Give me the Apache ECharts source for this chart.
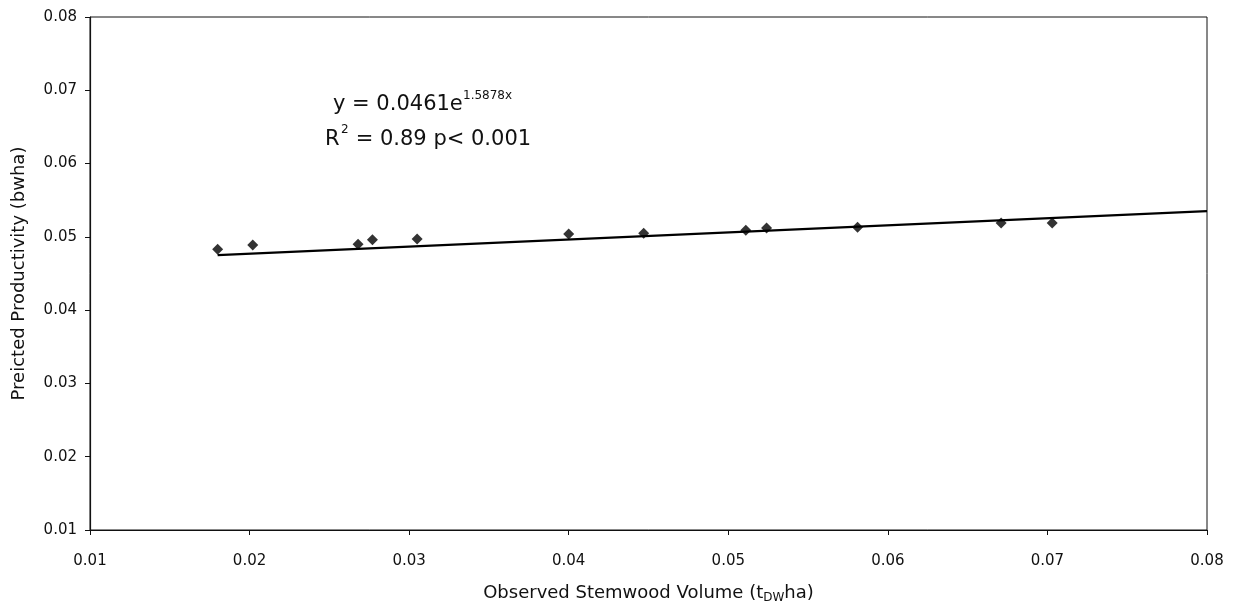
<!DOCTYPE html>
<html>
<head>
<meta charset="utf-8">
<script src="https://cdn.jsdelivr.net/npm/echarts@6/dist/echarts.min.js"></script>
<style>
html,body{margin:0;padding:0;background:#fff;}
#chart{width:1240px;height:608px;}
</style>
</head>
<body>
<div id="chart"></div>
<script>
// Observed stemwood volume (x) and predicted productivity (y)
const observedX = [0.0180, 0.0202, 0.0268, 0.0277, 0.0305, 0.0400, 0.0447, 0.0511, 0.0524, 0.0581, 0.0671, 0.0703];
const predictedY = [0.0483, 0.0489, 0.0490, 0.0496, 0.0497, 0.0504, 0.0505, 0.0509, 0.0512, 0.0513, 0.0519, 0.0519];
// Trendline end points
const trendX = [0.018, 0.08];
const trendY = [0.0475, 0.0535];
const xTicks = ['0.01','0.02','0.03','0.04','0.05','0.06','0.07','0.08'];
const yTicks = ['0.01','0.02','0.03','0.04','0.05','0.06','0.07','0.08'];

const FONT = '"DejaVu Sans", "Liberation Sans", Arial, sans-serif';
const chart = echarts.init(document.getElementById('chart'));
const pts = observedX.map((x, i) => [x, predictedY[i]]);
const trend = trendX.map((x, i) => [x, trendY[i]]);

chart.setOption({
  animation: false,
  backgroundColor: '#fff',
  grid: { left: 90, right: 33, top: 17, bottom: 78, containLabel: false, outerBoundsMode: 'none',
    show: true, borderColor: '#111', borderWidth: 1, backgroundColor: 'transparent' },
  xAxis: {
    type: 'value', min: 0.01, max: 0.08, interval: 0.01,
    name: 'Observed Stemwood Volume (t{sub|DW}ha)',
    nameLocation: 'middle', nameGap: 53,
    nameTextStyle: { fontFamily: FONT, fontSize: 18, color: '#111',
      rich: { sub: { fontFamily: FONT, fontSize: 12, color: '#111', padding: [9, 0, 0, 0] } } },
    axisLine: { show: true, lineStyle: { color: '#111', width: 1.2 } },
    axisTick: { show: true, inside: false, length: 5, lineStyle: { color: '#111' } },
    axisLabel: { fontFamily: FONT, fontSize: 15, color: '#111', margin: 24,
      formatter: v => xTicks[Math.round((v - 0.01) * 100)] || '' },
    splitLine: { show: false }
  },
  yAxis: {
    type: 'value', min: 0.01, max: 0.08, interval: 0.01,
    name: 'Preicted Productivity (bwha)',
    nameLocation: 'middle', nameGap: 62,
    nameTextStyle: { fontFamily: FONT, fontSize: 18, color: '#111' },
    axisLine: { show: true, lineStyle: { color: '#111', width: 1.2 } },
    axisTick: { show: true, inside: false, length: 5, lineStyle: { color: '#111' } },
    axisLabel: { fontFamily: FONT, fontSize: 15, color: '#111', margin: 13,
      formatter: v => yTicks[Math.round((v - 0.01) * 100)] || '' },
    splitLine: { show: false }
  },
  series: [
    {
      type: 'line', data: trend, symbol: 'none', silent: true,
      lineStyle: { color: '#000', width: 2.2 }, z: 2
    },
    {
      type: 'scatter', data: pts, symbol: 'diamond', symbolSize: 11,
      itemStyle: { color: '#000' }, z: 3
    }
  ],
  graphic: [
    { type: 'text', left: 333, top: 94, style: { text: 'y = 0.0461e', font: '21px ' + FONT, fill: '#111' } },
    { type: 'text', left: 463, top: 90, style: { text: '1.5878x', font: '12px ' + FONT, fill: '#111' } },
    { type: 'text', left: 325, top: 129, style: { text: 'R', font: '21px ' + FONT, fill: '#111' } },
    { type: 'text', left: 341, top: 124, style: { text: '2', font: '12px ' + FONT, fill: '#111' } },
    { type: 'text', left: 349, top: 129, style: { text: ' = 0.89 p< 0.001', font: '21px ' + FONT, fill: '#111' } }
  ]
});
</script>
</body>
</html>
